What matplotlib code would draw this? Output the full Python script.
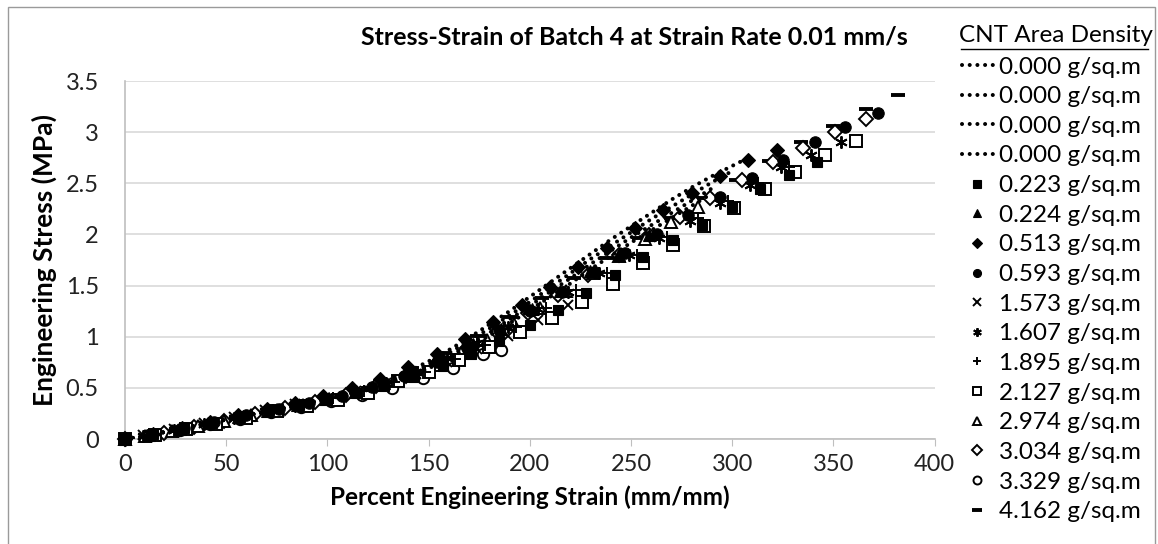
import matplotlib
matplotlib.use("Agg")
import matplotlib.pyplot as plt
from matplotlib.lines import Line2D
from matplotlib.patches import Rectangle

plt.rcParams['font.family'] = ['Lato', 'DejaVu Sans']

# 0.000 g/sq.m control samples (dotted lines)
ctrl_x = [0, 10, 20, 30, 40, 50, 60, 70, 80, 90, 100, 110, 120, 130, 140, 150,
          160, 170, 180, 190, 200, 210, 220, 230, 240, 250, 260, 270, 280, 290, 300, 308]
ctrl_a = [0, 0.03, 0.07, 0.11, 0.15, 0.19, 0.23, 0.27, 0.31, 0.35, 0.40, 0.45, 0.51, 0.58, 0.66, 0.76,
          0.87, 0.99, 1.12, 1.25, 1.39, 1.53, 1.67, 1.81, 1.95, 2.08, 2.21, 2.34, 2.46, 2.57, 2.67, 2.75]
ctrl_b = [0, 0.03, 0.07, 0.11, 0.15, 0.19, 0.23, 0.27, 0.31, 0.35, 0.39, 0.44, 0.50, 0.56, 0.64, 0.73,
          0.84, 0.96, 1.08, 1.21, 1.34, 1.48, 1.62, 1.76, 1.89, 2.02, 2.15, 2.27, 2.39, 2.51, 2.62]
ctrl_c = [0, 0.03, 0.07, 0.11, 0.15, 0.19, 0.23, 0.27, 0.31, 0.35, 0.39, 0.44, 0.49, 0.55, 0.62, 0.71,
          0.81, 0.92, 1.04, 1.17, 1.30, 1.44, 1.57, 1.71, 1.84, 1.97, 2.09, 2.21, 2.33, 2.45]
ctrl_d = [0, 0.03, 0.07, 0.11, 0.15, 0.19, 0.23, 0.27, 0.31, 0.35, 0.39, 0.43, 0.48, 0.54, 0.61, 0.69,
          0.79, 0.90, 1.01, 1.13, 1.26, 1.39, 1.52, 1.66, 1.79, 1.92, 2.04, 2.16, 2.28, 2.40]

# CNT samples
sq_x = [0, 14, 29, 43, 57, 71, 86, 100, 114, 128, 143, 157, 171, 185, 200, 214, 228, 242, 256, 271, 285, 300, 314, 328, 342]
sq_y = [0, 0.05, 0.11, 0.16, 0.22, 0.28, 0.33, 0.39, 0.45, 0.52, 0.61, 0.71, 0.83, 0.96, 1.11, 1.26, 1.43, 1.60, 1.78, 1.95, 2.09, 2.27, 2.44, 2.58, 2.71]

tri_x = [0, 12, 27, 41, 56, 70, 85, 99, 114, 128, 143, 157, 172, 186, 201, 215, 230, 244, 259]
tri_y = [0, 0.04, 0.10, 0.16, 0.22, 0.27, 0.33, 0.39, 0.47, 0.55, 0.66, 0.78, 0.93, 1.08, 1.27, 1.45, 1.64, 1.80, 1.99]

dia_x = [0, 14, 28, 42, 56, 70, 84, 98, 112, 126, 140, 154, 168, 182, 196, 210, 224, 238, 252, 266, 280, 294, 308, 322]
dia_y = [0, 0.05, 0.11, 0.17, 0.23, 0.29, 0.35, 0.42, 0.50, 0.59, 0.70, 0.83, 0.98, 1.14, 1.31, 1.49, 1.68, 1.87, 2.06, 2.24, 2.41, 2.57, 2.73, 2.83]

cir_x = [0, 13, 29, 44, 60, 76, 91, 107, 122, 138, 154, 169, 185, 200, 216, 232, 247, 263, 278, 294, 310, 325, 341, 356, 372]
cir_y = [0, 0.04, 0.11, 0.17, 0.23, 0.29, 0.35, 0.42, 0.51, 0.62, 0.75, 0.90, 1.07, 1.25, 1.44, 1.63, 1.82, 2.00, 2.19, 2.37, 2.55, 2.73, 2.90, 3.05, 3.19]

x_x = [0, 9, 24, 39, 54, 69, 84, 99, 114, 129, 144, 159, 174, 189, 204, 219]
x_y = [0, 0.04, 0.10, 0.16, 0.22, 0.28, 0.34, 0.40, 0.47, 0.55, 0.64, 0.75, 0.88, 1.01, 1.16, 1.31]

ast_x = [0, 9, 24, 39, 54, 69, 84, 99, 114, 129, 144, 159, 174, 189, 204, 219, 234, 249, 264, 279, 294, 309, 324, 339, 354]
ast_y = [0, 0.03, 0.09, 0.15, 0.21, 0.27, 0.32, 0.39, 0.46, 0.55, 0.66, 0.79, 0.94, 1.10, 1.27, 1.44, 1.62, 1.80, 1.97, 2.13, 2.31, 2.48, 2.66, 2.78, 2.90]

plus_x = [0, 13, 28, 43, 58, 73, 88, 103, 118, 133, 148, 163, 178, 193, 208, 223, 238, 253, 268, 283, 298, 313, 328]
plus_y = [0, 0.04, 0.10, 0.16, 0.22, 0.28, 0.33, 0.40, 0.47, 0.56, 0.66, 0.78, 0.92, 1.10, 1.28, 1.46, 1.62, 1.80, 1.98, 2.16, 2.33, 2.50, 2.66]

osq_x = [0, 15, 30, 45, 60, 75, 90, 105, 120, 135, 150, 165, 180, 195, 211, 226, 241, 256, 271, 286, 301, 316, 331, 346, 361]
osq_y = [0, 0.04, 0.10, 0.15, 0.21, 0.27, 0.32, 0.38, 0.45, 0.57, 0.66, 0.77, 0.90, 1.05, 1.18, 1.34, 1.52, 1.72, 1.90, 2.08, 2.26, 2.44, 2.61, 2.78, 2.91]

otri_x = [0, 10, 23, 36, 49, 62, 75, 88, 101, 114, 127, 140, 153, 166, 179, 192, 205, 218, 231, 244, 257, 270, 283]
otri_y = [0, 0.03, 0.08, 0.13, 0.18, 0.23, 0.28, 0.33, 0.39, 0.46, 0.53, 0.62, 0.72, 0.84, 0.97, 1.12, 1.28, 1.45, 1.62, 1.79, 1.96, 2.12, 2.27]

odia_x = [0, 19, 34, 49, 64, 79, 94, 109, 124, 139, 154, 169, 184, 199, 214, 229, 244, 259, 274, 289, 305, 320, 335, 351, 366]
odia_y = [0, 0.06, 0.12, 0.18, 0.24, 0.30, 0.36, 0.43, 0.52, 0.62, 0.74, 0.89, 1.05, 1.23, 1.41, 1.60, 1.80, 1.99, 2.17, 2.36, 2.53, 2.71, 2.85, 3.00, 3.13]

ocir_x = [0, 12, 27, 42, 57, 72, 87, 102, 117, 132, 147, 162, 177, 186]
ocir_y = [0, 0.04, 0.09, 0.15, 0.20, 0.26, 0.31, 0.37, 0.43, 0.50, 0.60, 0.69, 0.83, 0.87]

dash_x = [0, 14, 30, 46, 62, 78, 94, 110, 126, 142, 158, 174, 190, 206, 222, 238, 254, 270, 286, 302, 318, 334, 350, 366, 382]
dash_y = [0, 0.05, 0.11, 0.18, 0.24, 0.30, 0.37, 0.45, 0.56, 0.69, 0.84, 1.01, 1.19, 1.38, 1.57, 1.77, 1.97, 2.16, 2.36, 2.53, 2.72, 2.90, 3.06, 3.23, 3.36]

ctrl_label = "0.000 g/sq.m"

fig = plt.figure(figsize=(11.58, 5.44), dpi=100)
ax = fig.add_axes([0.108, 0.193, 0.699, 0.658])

# control lines, round-dot style, drawn on top of the markers
for ys in [ctrl_a, ctrl_b, ctrl_c, ctrl_d]:
    ax.plot(ctrl_x[:len(ys)], ys, linestyle=(0, (0.01, 1.9)), color="black", linewidth=2.9,
            label=ctrl_label, dash_capstyle="round", zorder=30)

# marker series: (x, y, marker, filled, size, label)
marker_series = [
    (sq_x, sq_y, "s", True, 7.8, "0.223 g/sq.m"),
    (tri_x, tri_y, "^", True, 8.2, "0.224 g/sq.m"),
    (dia_x, dia_y, "D", True, 7.2, "0.513 g/sq.m"),
    (cir_x, cir_y, "o", True, 8.2, "0.593 g/sq.m"),
    (x_x, x_y, "x", False, 7.8, "1.573 g/sq.m"),
    (ast_x, ast_y, (6, 2, 0), False, 8.8, "1.607 g/sq.m"),
    (plus_x, plus_y, "+", False, 8.8, "1.895 g/sq.m"),
    (osq_x, osq_y, "s", False, 8.2, "2.127 g/sq.m"),
    (otri_x, otri_y, "^", False, 8.8, "2.974 g/sq.m"),
    (odia_x, odia_y, "D", False, 7.2, "3.034 g/sq.m"),
    (ocir_x, ocir_y, "o", False, 8.2, "3.329 g/sq.m"),
    (dash_x, dash_y, "_", False, 9.5, "4.162 g/sq.m"),
]

# earlier series sit on top, as in the original chart
for i, (xs, ys, mk, filled, ms, lab) in enumerate(marker_series):
    z = 20 - i
    if filled:
        ax.plot(xs, ys, linestyle="none", marker=mk, markersize=ms, markerfacecolor="black",
                markeredgecolor="black", markeredgewidth=0.8, label=lab, zorder=z, clip_on=False)
    else:
        mew = 2.8 if mk == "_" else 1.4
        face = "white" if mk in ("s", "^", "D", "o") else "none"
        ax.plot(xs, ys, linestyle="none", marker=mk, markersize=ms, markerfacecolor=face,
                markeredgecolor="black", markeredgewidth=mew, label=lab, zorder=z, clip_on=False)

ax.set_xlim(0, 400)
ax.set_ylim(0, 3.5)
ax.set_xticks(range(0, 401, 50))
ax.set_yticks([0, 0.5, 1, 1.5, 2, 2.5, 3, 3.5])
ax.set_yticklabels(["0", "0.5", "1", "1.5", "2", "2.5", "3", "3.5"])
ax.grid(axis="y", color="#d9d9d9", linewidth=1.2)
ax.set_axisbelow(True)
for s in ["top", "right"]:
    ax.spines[s].set_visible(False)
for s in ["left", "bottom"]:
    ax.spines[s].set_color("#bfbfbf")
    ax.spines[s].set_linewidth(1.2)
ax.tick_params(axis="x", direction="out", length=5, color="#bfbfbf", labelsize=17, pad=6)
ax.tick_params(axis="y", length=0, labelsize=17, pad=19)
for t in ax.get_xticklabels() + ax.get_yticklabels():
    t.set_color("#222222")

ax.set_xlabel("Percent Engineering Strain (mm/mm)", fontsize=17.5, fontweight="bold", labelpad=7)
ax.set_ylabel("Engineering Stress (MPa)", fontsize=19, fontweight="bold", labelpad=6)
fig.text(0.548, 0.932, "Stress-Strain of Batch 4 at Strain Rate 0.01 mm/s", ha="center", va="center",
         fontsize=18, fontweight="bold")

# legend
handles, labels = ax.get_legend_handles_labels()
leg = fig.legend(handles, labels, loc="upper left", bbox_to_anchor=(0.822, 0.914), frameon=False,
                 fontsize=17.5, handlelength=1.3, handletextpad=0.25, labelspacing=0.355,
                 borderaxespad=0, markerscale=0.7)
fig.text(0.9115, 0.935, "CNT Area Density", ha="center", va="center", fontsize=17.5)
fig.add_artist(Line2D([0.8300, 0.9915], [0.910, 0.910], transform=fig.transFigure,
                      color="black", linewidth=1.0))

# outer chart border
fig.add_artist(Rectangle((8 / 1158, -0.02), (1155 - 8) / 1158, 1.02 - 7 / 544,
                         transform=fig.transFigure, fill=False, edgecolor="#9a9a9a", linewidth=1.0))

fig.savefig("out.png", dpi=100)
